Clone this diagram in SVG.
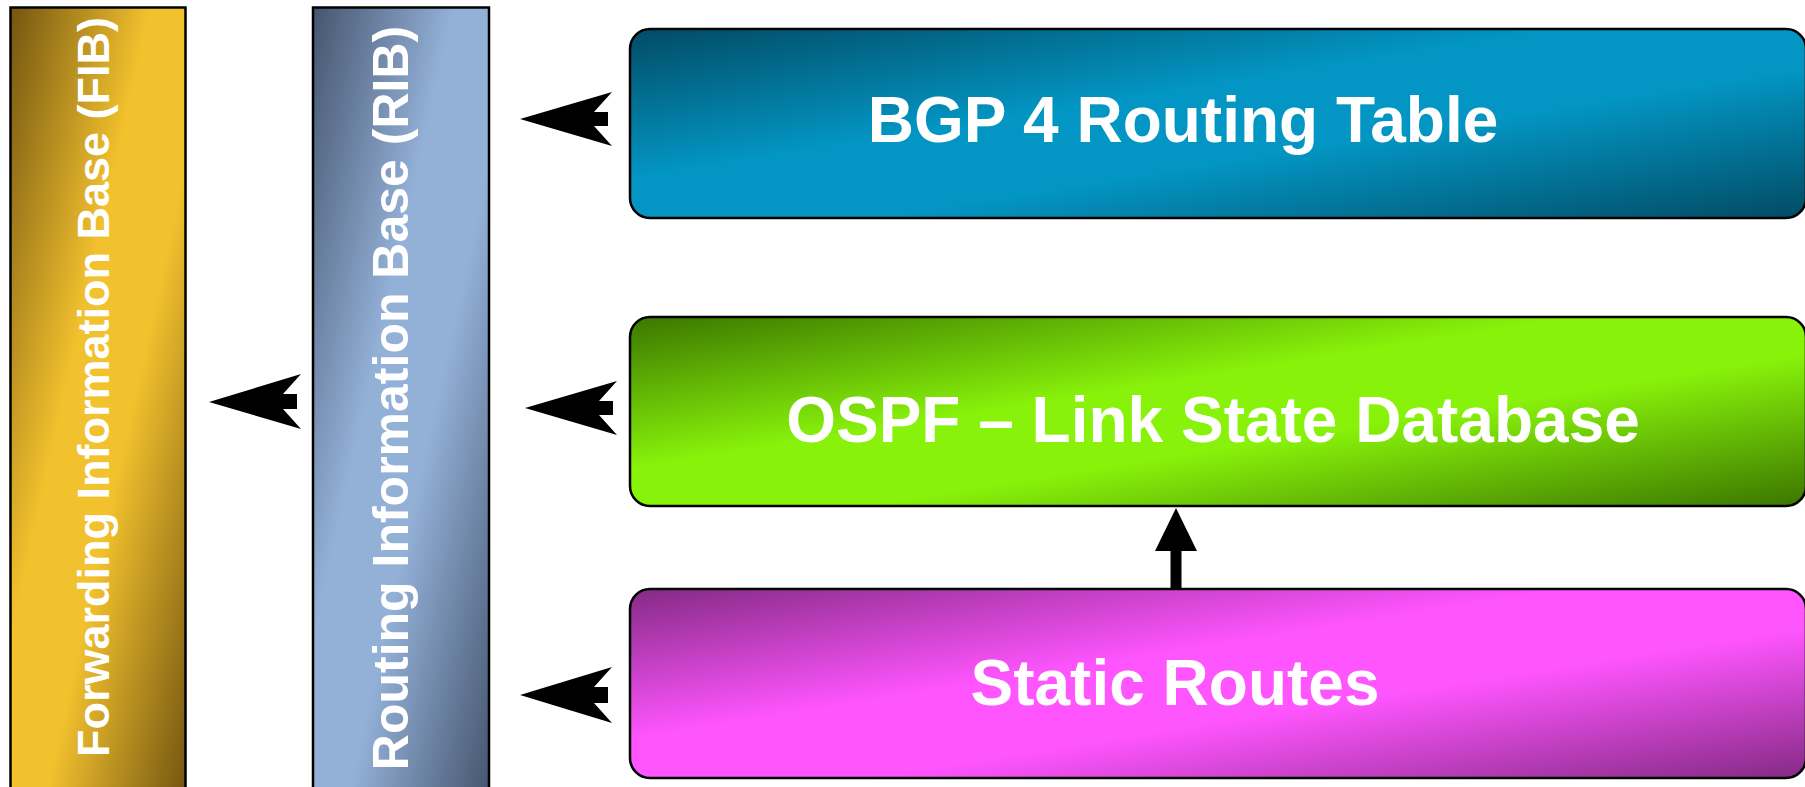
<svg xmlns="http://www.w3.org/2000/svg" width="1805" height="787" viewBox="0 0 1805 787">
<style>
.box{stroke:#000;stroke-width:2.5}
.lbl{font-family:"Liberation Sans",Arial,sans-serif;font-weight:bold;fill:#fff;text-anchor:middle}
.arr{fill:#000}
</style>
<defs>
<linearGradient id="gFIB" x1="0" y1="0" x2="1" y2="1">
<stop offset="0" stop-color="#735510"/><stop offset="0.4" stop-color="#f2c12e"/><stop offset="0.6" stop-color="#f2c12e"/><stop offset="1" stop-color="#735510"/>
</linearGradient>
<linearGradient id="gRIB" x1="0" y1="0" x2="1" y2="1">
<stop offset="0" stop-color="#45556e"/><stop offset="0.4" stop-color="#93b0d7"/><stop offset="0.6" stop-color="#93b0d7"/><stop offset="1" stop-color="#45556e"/>
</linearGradient>
<linearGradient id="gBGP" x1="0" y1="0" x2="1" y2="1">
<stop offset="0" stop-color="#024b64"/><stop offset="0.4" stop-color="#0396c4"/><stop offset="0.6" stop-color="#0396c4"/><stop offset="1" stop-color="#024b64"/>
</linearGradient>
<linearGradient id="gOSPF" x1="0" y1="0" x2="1" y2="1">
<stop offset="0" stop-color="#3b7600"/><stop offset="0.4" stop-color="#88f20a"/><stop offset="0.6" stop-color="#88f20a"/><stop offset="1" stop-color="#3b7600"/>
</linearGradient>
<linearGradient id="gST" x1="0" y1="0" x2="1" y2="1">
<stop offset="0" stop-color="#852a85"/><stop offset="0.4" stop-color="#ff55ff"/><stop offset="0.6" stop-color="#ff55ff"/><stop offset="1" stop-color="#852a85"/>
</linearGradient>
</defs>
<rect width="1805" height="787" fill="#fff"/>
<g id="fib">
<rect class="box" x="10.5" y="7.5" width="175" height="790" fill="url(#gFIB)"/>
<text class="lbl" font-size="45" transform="translate(109,387) rotate(-90)">Forwarding Information Base (FIB)</text>
</g>
<g id="rib">
<rect class="box" x="313" y="7.5" width="176" height="790" fill="url(#gRIB)"/>
<text class="lbl" font-size="50" transform="translate(408,398) rotate(-90)">Routing Information Base (RIB)</text>
</g>
<g id="bgp">
<rect class="box" x="630" y="29" width="1176" height="189" rx="20" fill="url(#gBGP)"/>
<text class="lbl" font-size="64" x="1183" y="142">BGP 4 Routing Table</text>
</g>
<g id="ospf">
<rect class="box" x="630" y="317" width="1176" height="189" rx="20" fill="url(#gOSPF)"/>
<text class="lbl" font-size="64" x="1213" y="442">OSPF – Link State Database</text>
</g>
<g id="static">
<rect class="box" x="630" y="589" width="1176" height="189" rx="20" fill="url(#gST)"/>
<text class="lbl" font-size="64" x="1175" y="705">Static Routes</text>
</g>
<g id="connectors">
<path class="arr" d="M520,119 L612,92 L594,112 L608,112 L608,126 L594,126 L612,146 Z"/>
<path class="arr" d="M525,408 L617,381 L599,401 L613,401 L613,415 L599,415 L617,435 Z"/>
<path class="arr" d="M520,695 L612,667 L594,687 L608,687 L608,703 L594,703 L612,723 Z"/>
<path class="arr" d="M209,402 L301,374 L283,394 L297,394 L297,409 L283,409 L301,429 Z"/>
<path class="arr" d="M1176,508 L1197,551 L1181.5,551 L1181.5,589 L1170.5,589 L1170.5,551 L1155,551 Z"/>
</g>
</svg>
